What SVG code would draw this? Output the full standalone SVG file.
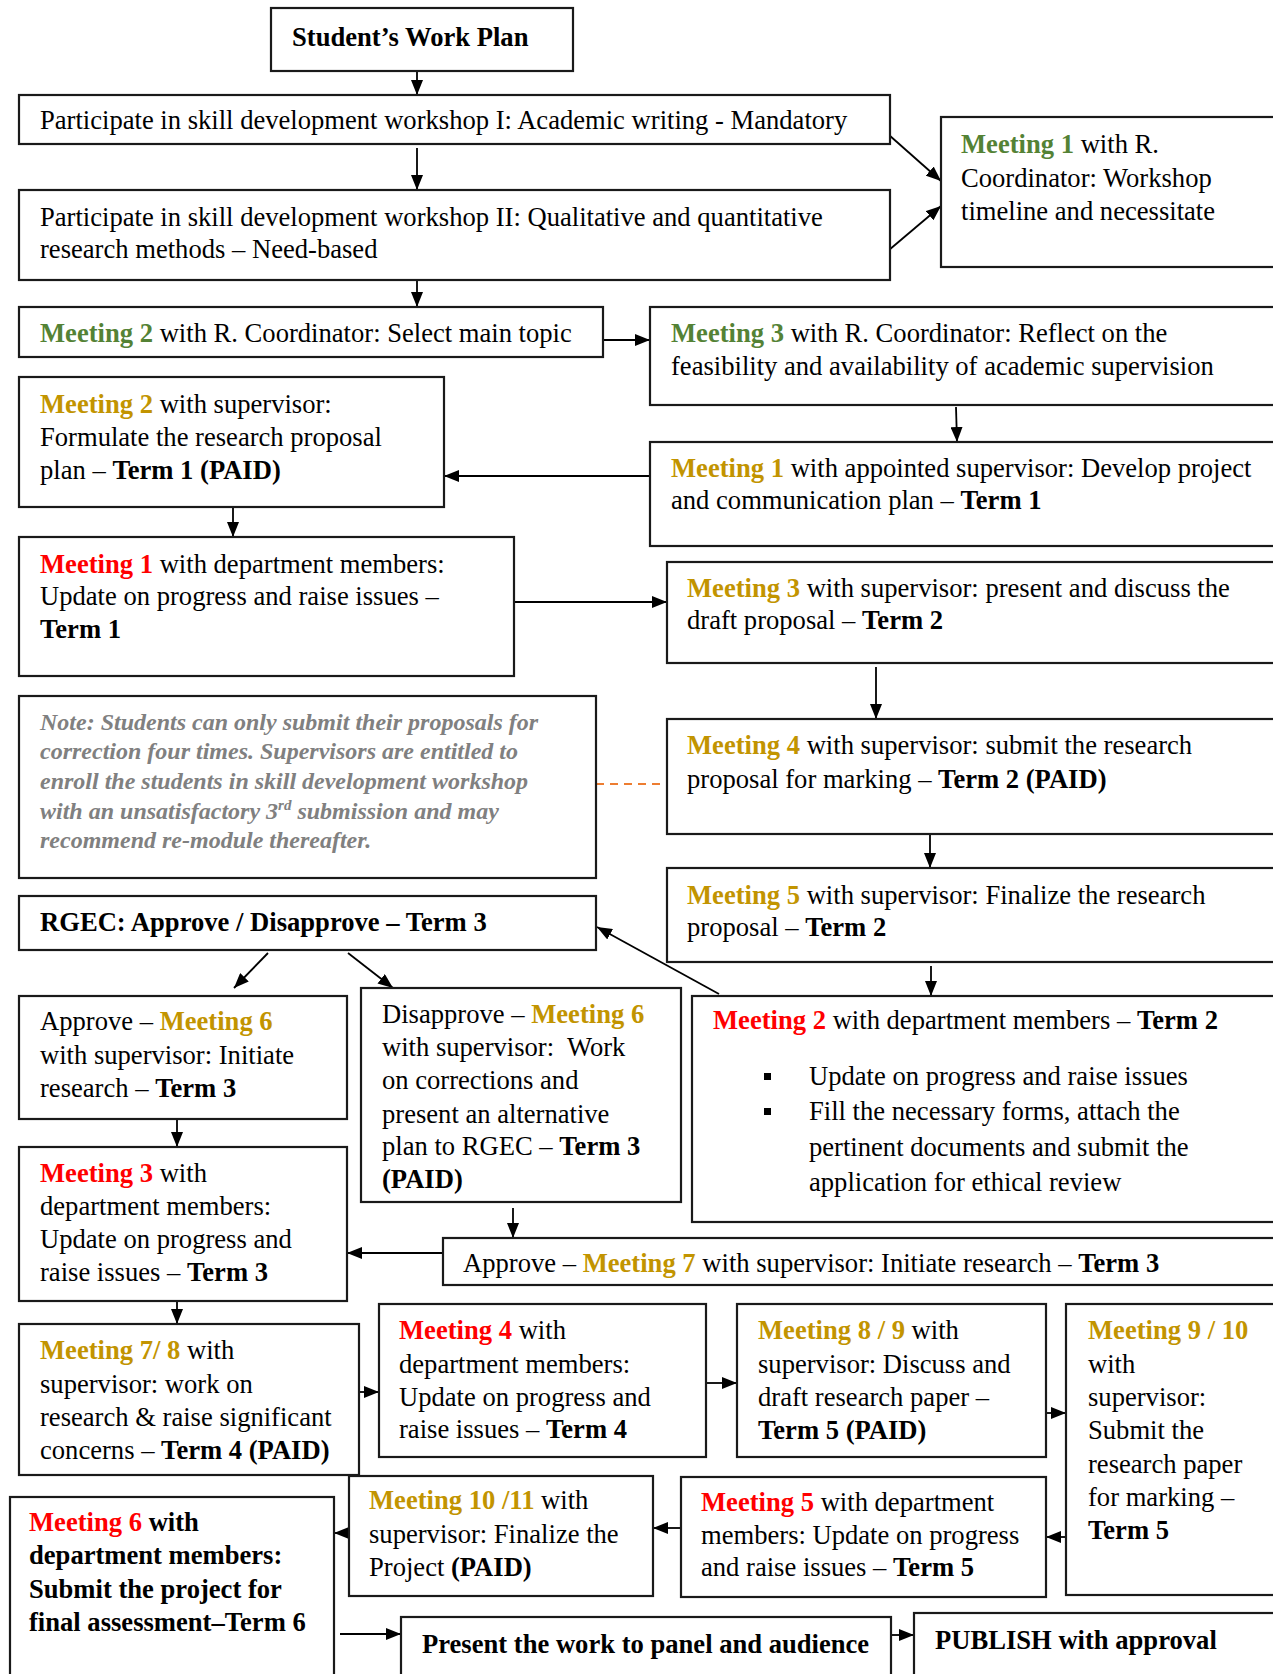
<svg xmlns="http://www.w3.org/2000/svg" width="1273" height="1674" viewBox="0 0 1273 1674">
<style>
.box{fill:#fff;stroke:#1a1a1a;stroke-width:2.2}
text{font-family:"Liberation Serif","Times New Roman",serif;font-size:26.6px;fill:#000}
.b{font-weight:bold}
.g{fill:#548235;font-weight:bold}
.y{fill:#C29400;font-weight:bold}
.r{fill:#FF0000;font-weight:bold}
.note{font-style:italic;font-weight:bold;fill:#808080;font-size:24px}
.c{stroke:#000;stroke-width:1.8;fill:none;marker-end:url(#ah)}
.d{stroke:#ED7D31;stroke-width:1.8;fill:none;stroke-dasharray:8 6}
</style>
<defs>
<marker id="ah" markerUnits="userSpaceOnUse" markerWidth="15" markerHeight="12" refX="15" refY="6" orient="auto">
<path d="M0,0 L15,6 L0,12 z" fill="#000"/>
</marker>
</defs>
<rect width="1273" height="1674" fill="#fff"/>
<g id="connectors">
<line class="c" x1="417" y1="71" x2="417" y2="95"/>
<line class="c" x1="417" y1="148" x2="417" y2="190"/>
<line class="c" x1="417" y1="281" x2="417" y2="307"/>
<line class="c" x1="889" y1="135" x2="941" y2="181"/>
<line class="c" x1="889" y1="250" x2="941" y2="206"/>
<line class="c" x1="603" y1="340" x2="650" y2="340"/>
<line class="c" x1="956" y1="407" x2="957" y2="442"/>
<line class="c" x1="650" y1="476" x2="444" y2="476"/>
<line class="c" x1="233" y1="508" x2="233" y2="537"/>
<line class="c" x1="514" y1="602" x2="667" y2="602"/>
<line class="c" x1="876" y1="667" x2="876" y2="719"/>
<line class="d" x1="596" y1="784" x2="667" y2="784"/>
<line class="c" x1="930" y1="835" x2="930" y2="868"/>
<line class="c" x1="931" y1="966" x2="931" y2="996"/>
<line class="c" x1="719" y1="994" x2="597" y2="927"/>
<line class="c" x1="268" y1="953" x2="234" y2="988"/>
<line class="c" x1="348" y1="953" x2="393" y2="988"/>
<line class="c" x1="177" y1="1119" x2="177" y2="1147"/>
<line class="c" x1="513" y1="1208" x2="513" y2="1238"/>
<line class="c" x1="443" y1="1253" x2="347" y2="1253"/>
<line class="c" x1="177" y1="1301" x2="177" y2="1324"/>
<line class="c" x1="359" y1="1392" x2="379" y2="1392"/>
<line class="c" x1="706" y1="1383" x2="737" y2="1383"/>
<line class="c" x1="1046" y1="1413" x2="1066" y2="1413"/>
<line class="c" x1="1066" y1="1537" x2="1046" y2="1537"/>
<line class="c" x1="681" y1="1528" x2="653" y2="1528"/>
<line class="c" x1="351" y1="1533" x2="334" y2="1533"/>
<line class="c" x1="340" y1="1634" x2="401" y2="1634"/>
<line class="c" x1="891" y1="1635" x2="914" y2="1635"/>
</g>
<g id="title"><rect class="box" x="271" y="8" width="302" height="63"/><text class="b" x="292" y="46">Student’s Work Plan</text></g>
<g id="ws1"><rect class="box" x="19" y="95" width="871" height="49"/><text x="40" y="129">Participate in skill development workshop I: Academic writing - Mandatory</text></g>
<g id="ws2"><rect class="box" x="19" y="190" width="871" height="90"/><text x="40" y="226">Participate in skill development workshop II: Qualitative and quantitative</text><text x="40" y="258">research methods – Need-based</text></g>
<g id="m1rc"><rect class="box" x="941" y="117" width="345" height="150"/><text x="961" y="153"><tspan class="g">Meeting 1</tspan> with R.</text><text x="961" y="187">Coordinator: Workshop</text><text x="961" y="220">timeline and necessitate</text></g>
<g id="m2rc"><rect class="box" x="19" y="307" width="584" height="50"/><text x="40" y="342"><tspan class="g">Meeting 2</tspan> with R. Coordinator: Select main topic</text></g>
<g id="m3rc"><rect class="box" x="650" y="307" width="636" height="98"/><text x="671" y="342"><tspan class="g">Meeting 3</tspan> with R. Coordinator: Reflect on the</text><text x="671" y="375">feasibility and availability of academic supervision</text></g>
<g id="m2s"><rect class="box" x="19" y="377" width="425" height="130"/><text x="40" y="413"><tspan class="y">Meeting 2</tspan> with supervisor:</text><text x="40" y="446">Formulate the research proposal</text><text x="40" y="479">plan – <tspan class="b">Term 1 (PAID)</tspan></text></g>
<g id="m1as"><rect class="box" x="650" y="442" width="636" height="104"/><text x="671" y="477"><tspan class="y">Meeting 1</tspan> with appointed supervisor: Develop project</text><text x="671" y="509">and communication plan – <tspan class="b">Term 1</tspan></text></g>
<g id="m1dm"><rect class="box" x="19" y="537" width="495" height="139"/><text x="40" y="573"><tspan class="r">Meeting 1</tspan> with department members:</text><text x="40" y="605">Update on progress and raise issues –</text><text class="b" x="40" y="638">Term 1</text></g>
<g id="m3s"><rect class="box" x="667" y="562" width="619" height="101"/><text x="687" y="597"><tspan class="y">Meeting 3</tspan> with supervisor: present and discuss the</text><text x="687" y="629">draft proposal – <tspan class="b">Term 2</tspan></text></g>
<g id="note"><rect class="box" x="19" y="696" width="577" height="182"/>
<text class="note" x="40" y="730">Note: Students can only submit their proposals for</text>
<text class="note" x="40" y="759">correction four times. Supervisors are entitled to</text>
<text class="note" x="40" y="789">enroll the students in skill development workshop</text>
<text class="note" x="40" y="819">with an unsatisfactory 3<tspan font-size="15" dy="-9">rd</tspan><tspan dy="9"> submission and may</tspan></text>
<text class="note" x="40" y="848">recommend re-module thereafter.</text></g>
<g id="m4s"><rect class="box" x="667" y="719" width="619" height="115"/><text x="687" y="754"><tspan class="y">Meeting 4</tspan> with supervisor: submit the research</text><text x="687" y="788">proposal for marking – <tspan class="b">Term 2 (PAID)</tspan></text></g>
<g id="m5s"><rect class="box" x="667" y="868" width="619" height="94"/><text x="687" y="904"><tspan class="y">Meeting 5</tspan> with supervisor: Finalize the research</text><text x="687" y="936">proposal – <tspan class="b">Term 2</tspan></text></g>
<g id="rgec"><rect class="box" x="19" y="896" width="577" height="54"/><text class="b" x="40" y="931">RGEC: Approve / Disapprove – Term 3</text></g>
<g id="m2dm"><rect class="box" x="692" y="996" width="594" height="226"/><text x="713" y="1029"><tspan class="r">Meeting 2</tspan> with department members – <tspan class="b">Term 2</tspan></text>
<rect x="764" y="1073" width="7" height="7" fill="#000"/><rect x="764" y="1108" width="7" height="7" fill="#000"/>
<text x="809" y="1085">Update on progress and raise issues</text><text x="809" y="1120">Fill the necessary forms, attach the</text><text x="809" y="1156">pertinent documents and submit the</text><text x="809" y="1191">application for ethical review</text></g>
<g id="apm6"><rect class="box" x="19" y="996" width="328" height="123"/><text x="40" y="1030">Approve – <tspan class="y">Meeting 6</tspan></text><text x="40" y="1064">with supervisor: Initiate</text><text x="40" y="1097">research – <tspan class="b">Term 3</tspan></text></g>
<g id="disap"><rect class="box" x="361" y="988" width="320" height="214"/><text x="382" y="1023">Disapprove – <tspan class="y">Meeting 6</tspan></text><text x="382" y="1056">with supervisor:&#160; Work</text><text x="382" y="1089">on corrections and</text><text x="382" y="1123">present an alternative</text><text x="382" y="1155">plan to RGEC – <tspan class="b">Term 3</tspan></text><text class="b" x="382" y="1188">(PAID)</text></g>
<g id="apm7"><rect class="box" x="443" y="1238" width="843" height="47"/><text x="463" y="1272">Approve – <tspan class="y">Meeting 7</tspan> with supervisor: Initiate research – <tspan class="b">Term 3</tspan></text></g>
<g id="m3dm"><rect class="box" x="19" y="1147" width="328" height="154"/><text x="40" y="1182"><tspan class="r">Meeting 3</tspan> with</text><text x="40" y="1215">department members:</text><text x="40" y="1248">Update on progress and</text><text x="40" y="1281">raise issues – <tspan class="b">Term 3</tspan></text></g>
<g id="m78"><rect class="box" x="19" y="1324" width="340" height="151"/><text x="40" y="1359"><tspan class="y">Meeting 7/ 8</tspan> with</text><text x="40" y="1393">supervisor: work on</text><text x="40" y="1426">research &amp; raise significant</text><text x="40" y="1459">concerns – <tspan class="b">Term 4 (PAID)</tspan></text></g>
<g id="m4dm"><rect class="box" x="379" y="1304" width="327" height="153"/><text x="399" y="1339"><tspan class="r">Meeting 4</tspan> with</text><text x="399" y="1373">department members:</text><text x="399" y="1406">Update on progress and</text><text x="399" y="1438">raise issues – <tspan class="b">Term 4</tspan></text></g>
<g id="m89"><rect class="box" x="737" y="1304" width="309" height="153"/><text x="758" y="1339"><tspan class="y">Meeting 8 / 9</tspan> with</text><text x="758" y="1373">supervisor: Discuss and</text><text x="758" y="1406">draft research paper –</text><text class="b" x="758" y="1439">Term 5 (PAID)</text></g>
<g id="m910"><rect class="box" x="1066" y="1304" width="220" height="291"/><text class="y" x="1088" y="1339">Meeting 9 / 10</text><text x="1088" y="1373">with</text><text x="1088" y="1406">supervisor:</text><text x="1088" y="1439">Submit the</text><text x="1088" y="1473">research paper</text><text x="1088" y="1506">for marking –</text><text class="b" x="1088" y="1539">Term 5</text></g>
<g id="m1011"><rect class="box" x="349" y="1476" width="304" height="120"/><text x="369" y="1509"><tspan class="y">Meeting 10 /11</tspan> with</text><text x="369" y="1543">supervisor: Finalize the</text><text x="369" y="1576">Project <tspan class="b">(PAID)</tspan></text></g>
<g id="m5dm"><rect class="box" x="681" y="1477" width="365" height="120"/><text x="701" y="1511"><tspan class="r">Meeting 5</tspan> with department</text><text x="701" y="1544">members: Update on progress</text><text x="701" y="1576">and raise issues – <tspan class="b">Term 5</tspan></text></g>
<g id="m6dm"><rect class="box" x="10" y="1497" width="324" height="190"/><text class="b" x="29" y="1531"><tspan class="r">Meeting 6</tspan> with</text><text class="b" x="29" y="1564">department members:</text><text class="b" x="29" y="1598">Submit the project for</text><text class="b" x="29" y="1631">final assessment–Term 6</text></g>
<g id="present"><rect class="box" x="401" y="1617" width="490" height="70"/><text class="b" x="422" y="1653">Present the work to panel and audience</text></g>
<g id="publish"><rect class="box" x="914" y="1613" width="372" height="70"/><text class="b" x="935" y="1649">PUBLISH with approval</text></g>
</svg>
